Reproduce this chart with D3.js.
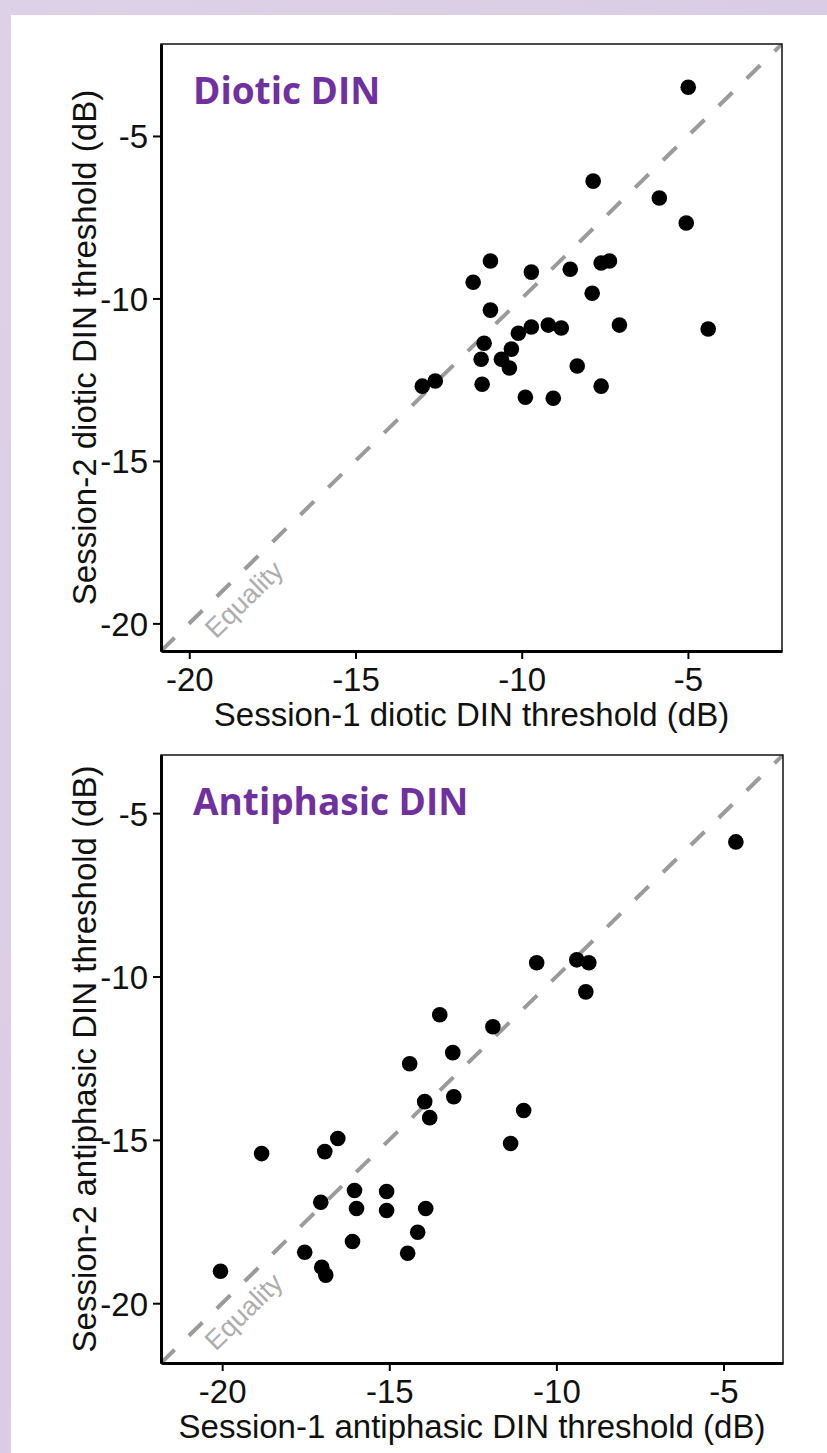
<!DOCTYPE html>
<html>
<head>
<meta charset="utf-8">
<script src="https://cdn.jsdelivr.net/npm/d3@7"></script>
<style>
  html, body { margin: 0; padding: 0; }
  body { width: 827px; height: 1453px; overflow: hidden; }
</style>
</head>
<body>
<div id="chart"></div>
<script>
// session thresholds in dB
var dioticSession1 = [-4.99, -7.85, -5.86, -5.05, -10.94, -11.46, -9.71, -8.54, -7.61, -7.36,
  -7.88, -10.94, -7.06, -4.39, -9.71, -9.20, -8.81, -10.10, -11.13, -10.31,
  -11.22, -10.61, -10.37, -8.33, -12.99, -12.60, -11.19, -7.61, -9.89, -9.05];
var dioticSession2 = [-3.50, -6.39, -6.91, -7.68, -8.85, -9.50, -9.19, -9.10, -8.91, -8.85,
  -9.84, -10.36, -10.82, -10.94, -10.88, -10.82, -10.91, -11.07, -11.38, -11.56,
  -11.87, -11.87, -12.14, -12.08, -12.70, -12.54, -12.64, -12.70, -13.04, -13.07];

var antiSession1 = [-4.63, -10.59, -9.39, -9.03, -9.12, -13.49, -11.90, -13.10, -14.39, -13.94,
  -13.07, -13.79, -10.98, -11.37, -16.54, -16.93, -18.82, -16.04, -15.08, -17.05,
  -15.98, -15.08, -13.91, -14.15, -16.10, -17.53, -14.45, -20.05, -17.02, -16.90];
var antiSession2 = [-5.88, -9.58, -9.49, -9.58, -10.47, -11.17, -11.54, -12.33, -12.67, -13.83,
  -13.68, -14.32, -14.10, -15.11, -14.96, -15.36, -15.42, -16.55, -16.58, -16.91,
  -17.10, -17.16, -17.10, -17.83, -18.11, -18.44, -18.47, -19.02, -18.90, -19.14];

var tickValues = [-20, -15, -10, -5];
var axisLimits = [[-20.85, -2.17], [-21.83, -3.22]];
var equalityLabelAt = [-18.8, -19.8];
var panelTitles = ["Diotic DIN", "Antiphasic DIN"];
var xTitles = ["Session-1 diotic DIN threshold (dB)", "Session-1 antiphasic DIN threshold (dB)"];
var yTitles = ["Session-2 diotic DIN threshold (dB)", "Session-2 antiphasic DIN threshold (dB)"];

var width = 827, height = 1453;
var boxes = [
  {left: 161, top: 44, right: 782, bottom: 651},
  {left: 161, top: 755, right: 783, bottom: 1363}
];
var seriesX = [dioticSession1, antiSession1];
var seriesY = [dioticSession2, antiSession2];

var svg = d3.select("#chart").append("svg")
    .attr("width", width)
    .attr("height", height);

var defs = svg.append("defs");
var grad = defs.append("linearGradient")
    .attr("id", "bg")
    .attr("x1", "0").attr("y1", "0").attr("x2", "1").attr("y2", "1");
grad.append("stop").attr("offset", "0").attr("stop-color", "#ddd1e7");
grad.append("stop").attr("offset", "1").attr("stop-color", "#d6c7e1");

svg.append("rect")
    .attr("width", width).attr("height", height)
    .attr("fill", "url(#bg)");
svg.append("rect")
    .attr("x", 11).attr("y", 15)
    .attr("width", width - 11).attr("height", height - 15)
    .attr("fill", "#ffffff");

boxes.forEach(function(b, i) {
  var x = d3.scaleLinear().domain(axisLimits[i]).range([b.left, b.right]);
  var y = d3.scaleLinear().domain(axisLimits[i]).range([b.bottom, b.top]);

  var g = svg.append("g").attr("class", "panel");

  defs.append("clipPath")
      .attr("id", "clip" + i)
    .append("rect")
      .attr("x", b.left).attr("y", b.top)
      .attr("width", b.right - b.left).attr("height", b.bottom - b.top);

  // equality line
  g.append("line")
      .attr("clip-path", "url(#clip" + i + ")")
      .attr("x1", x(axisLimits[i][0])).attr("y1", y(axisLimits[i][0]))
      .attr("x2", x(axisLimits[i][1])).attr("y2", y(axisLimits[i][1]))
      .attr("stroke", "#9b9b9b")
      .attr("stroke-width", 4)
      .attr("stroke-dasharray", "19,20");

  var t = equalityLabelAt[i];
  var lx = x(t) + 15, ly = y(t) + 15;
  var angle = Math.atan2(y(axisLimits[i][1]) - y(axisLimits[i][0]), x(axisLimits[i][1]) - x(axisLimits[i][0])) * 180 / Math.PI;
  g.append("text")
      .attr("transform", "translate(" + lx + "," + ly + ") rotate(" + angle + ")")
      .attr("text-anchor", "middle")
      .attr("dominant-baseline", "central")
      .attr("font-family", "Liberation Sans, Arial, sans-serif")
      .attr("font-size", "27px")
      .attr("fill", "#adadad")
      .text("Equality");

  // points
  g.selectAll("circle")
      .data(seriesX[i])
      .enter().append("circle")
      .attr("cx", function(d) { return x(d); })
      .attr("cy", function(d, j) { return y(seriesY[i][j]); })
      .attr("r", 7.8)
      .attr("fill", "#000");

  // panel frame
  g.append("rect")
      .attr("x", b.left).attr("y", b.top)
      .attr("width", b.right - b.left).attr("height", b.bottom - b.top)
      .attr("fill", "none")
      .attr("stroke", "#111")
      .attr("stroke-width", 1.5);

  var xAxis = g.append("g")
      .attr("transform", "translate(0," + b.bottom + ")")
      .call(d3.axisBottom(x).tickValues(tickValues).tickSize(8).tickPadding(9).tickSizeOuter(0));
  var yAxis = g.append("g")
      .attr("transform", "translate(" + b.left + ",0)")
      .call(d3.axisLeft(y).tickValues(tickValues).tickSize(8).tickPadding(5).tickSizeOuter(0));

  [xAxis, yAxis].forEach(function(a) {
    a.select(".domain").attr("stroke", "#000").attr("stroke-width", 3);
    a.selectAll(".tick line").attr("stroke", "#000").attr("stroke-width", 2);
    a.selectAll(".tick text")
        .attr("font-family", "Liberation Sans, Arial, sans-serif")
        .attr("font-size", "33px")
        .attr("fill", "#111")
        .text(function(d) { return "-" + Math.abs(d); });
  });
  xAxis.selectAll(".tick text").attr("dy", "0.71em");
  yAxis.selectAll(".tick text").attr("dy", "0.36em");

  g.append("text")
      .attr("x", (b.left + b.right) / 2)
      .attr("y", b.bottom + 75)
      .attr("text-anchor", "middle")
      .attr("font-family", "Liberation Sans, Arial, sans-serif")
      .attr("font-size", "33px")
      .attr("fill", "#111")
      .text(xTitles[i]);

  g.append("text")
      .attr("transform", "translate(96," + ((b.top + b.bottom) / 2) + ") rotate(-90)")
      .attr("text-anchor", "middle")
      .attr("font-family", "Liberation Sans, Arial, sans-serif")
      .attr("font-size", "33px")
      .attr("fill", "#111")
      .text(yTitles[i]);

  g.append("text")
      .attr("x", b.left + 32)
      .attr("y", b.top + 60)
      .attr("font-family", "Open Sans, Noto Sans, sans-serif")
      .attr("font-weight", 700)
      .attr("font-size", "37px")
      .attr("fill", "#7030a0")
      .text(panelTitles[i]);
});
</script>
</body>
</html>
